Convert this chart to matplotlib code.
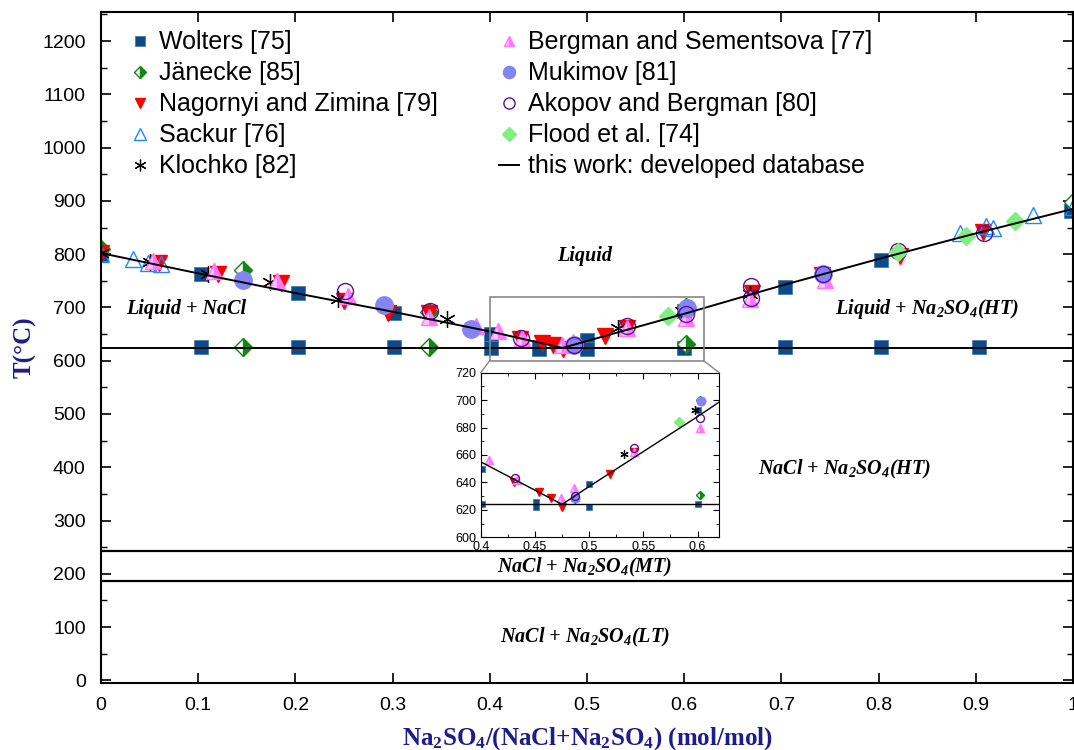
import numpy as np
import matplotlib
matplotlib.use("Agg")
import matplotlib.pyplot as plt
from matplotlib.patches import Rectangle, ConnectionPatch

plt.rcParams['font.family'] = ['Liberation Sans', 'DejaVu Sans']
plt.rcParams['mathtext.default'] = 'regular'

# liquidus from this work
liq_x = [0.0, 0.1, 0.2, 0.3, 0.4, 0.475, 0.5, 0.6, 0.7, 0.8, 0.9, 1.0]
liq_T = [802, 764, 727, 692, 655, 624, 637, 688, 741, 791, 839, 885]
eut_T = 624
mt_T = 243
lt_T = 186

# experimental data
wol_x = [0.0, 0.103, 0.203, 0.302, 0.401, 0.451, 0.5, 0.6, 0.704, 0.803, 0.998,
         0.103, 0.203, 0.302, 0.401, 0.451, 0.5, 0.6, 0.704, 0.803, 0.903]
wol_T = [800, 763, 727, 690, 650, 626, 639, 693, 739, 789, 881,
         625, 625, 625, 624, 622, 622, 624, 625, 625, 625]

jan_x = [0.0, 0.146, 0.338, 0.602, 1.0, 0.146, 0.337, 0.602]
jan_T = [810, 771, 692, 700, 898, 626, 625, 631]

nag_x = [0.0, 0.06, 0.12, 0.185, 0.25, 0.295, 0.338, 0.431, 0.454, 0.465, 0.475,
         0.519, 0.541, 0.67, 0.742, 0.822, 0.907]
nag_T = [803, 783, 763, 745, 712, 689, 690, 640, 633, 629, 622,
         646, 662, 727, 760, 796, 842]

sac_x = [0.0, 0.033, 0.048, 0.062, 0.884, 0.911, 0.918, 0.959, 1.0]
sac_T = [800, 790, 784, 781, 840, 852, 849, 874, 888]

klo_x = [0.0, 0.05, 0.11, 0.174, 0.2435, 0.356, 0.487, 0.532, 0.598, 0.668]
klo_T = [802, 785, 763, 747, 716, 678, 628, 661, 693, 725]

ber_x = [0.054, 0.116, 0.181, 0.254, 0.337, 0.386, 0.408, 0.433, 0.474, 0.486,
         0.541, 0.602, 0.668, 0.745]
ber_T = [788, 768, 749, 721, 683, 665, 656, 642, 629, 636,
         662, 680, 715, 752]

muk_x = [0.146, 0.2915, 0.381, 0.487, 0.603, 0.743]
muk_T = [751, 704, 659, 629, 699, 762]

ako_x = [0.251, 0.3385, 0.432, 0.487, 0.541, 0.602, 0.669, 0.669, 0.743, 0.82, 0.908]
ako_T = [730, 693, 643, 630, 665, 687, 740, 717, 763, 806, 840]

flo_x = [0.583, 0.82, 0.89, 0.94]
flo_T = [684, 805, 834, 862]

navy = '#1c1c8c'

fig = plt.figure(figsize=(10.74, 7.5), dpi=100)
ax = fig.add_axes([0.094, 0.0893, 0.905, 0.895])
axins = fig.add_axes([0.4476, 0.2836, 0.2221, 0.2195])


def draw(a, s):
    big = s > 0.7
    a.plot(wol_x, wol_T, ls='none', marker='s', ms=9.5 * s, color='#0b4a8b',
           mec='#4d78a8', mew=0.6, label='Wolters [75]')
    a.plot(jan_x, jan_T, ls='none', marker='D', ms=9 * s, color='#118811',
           fillstyle='right', markerfacecoloralt='white', mec='#118811', mew=1.0,
           label='Jänecke [85]')
    a.plot(nag_x, nag_T, ls='none', marker='v', ms=11 * s, color='#ff0000',
           label='Nagornyi and Zimina [79]')
    a.plot(sac_x, sac_T, ls='none', marker='^', ms=11.5 * s, mfc='none',
           mec='#1e88ff', mew=1.0, label='Sackur [76]')
    a.plot(klo_x, klo_T, ls='none', marker=(6, 2, 0), ms=12 * s, color='black',
           mew=0.9, label='Klochko [82]')
    a.plot(ber_x, ber_T, ls='none', marker='^', ms=11 * s, color='#ff77ff',
           fillstyle='right', markerfacecoloralt='#ffc4ff', mec='#ff77ff', mew=1.0,
           label='Bergman and Sementsova [77]')
    a.plot(muk_x, muk_T, ls='none', marker='o', ms=12.5 * s, color='#8484f4',
           label='Mukimov [81]')
    a.plot(ako_x, ako_T, ls='none', marker='o', ms=11.5 * s, mfc='none',
           mec='#5a1199', mew=1.0, label='Akopov and Bergman [80]')
    a.plot(flo_x, flo_T, ls='none', marker='D', ms=9.5 * s, color='#80ee80',
           label='Flood et al. [74]')
    a.plot(liq_x, liq_T, color='black', lw=1.4 if big else 1.0, zorder=4,
           label='this work: developed database')
    a.axhline(eut_T, color='black', lw=1.4 if big else 1.0, zorder=4)


draw(ax, 1.0)
ax.axhline(mt_T, color='black', lw=1.6, zorder=4)
ax.axhline(lt_T, color='black', lw=1.6, zorder=4)

ax.set_xlim(0, 1)
ax.set_ylim(-5, 1255)
ax.set_xticks(np.arange(0, 1.01, 0.1))
ax.set_xticklabels(['0', '0.1', '0.2', '0.3', '0.4', '0.5', '0.6', '0.7', '0.8', '0.9', '1'])
ax.set_yticks(np.arange(0, 1201, 100))
ax.set_yticks(np.arange(0, 1251, 50), minor=True)
ax.tick_params(which='both', direction='in', top=True, right=True, labelsize=14)
ax.tick_params(which='major', length=7, width=1.2)
ax.tick_params(which='minor', length=4, width=1.0)
ax.tick_params(axis='x', pad=10)
ax.tick_params(axis='y', pad=11)
for sp in ax.spines.values():
    sp.set_linewidth(1.5)

ax.set_xlabel('Na$_2$SO$_4$/(NaCl+Na$_2$SO$_4$) (mol/mol)', family='Liberation Serif',
              fontweight='bold', fontsize=18, color=navy, labelpad=8)
ax.set_ylabel('T(°C)', family='Liberation Serif', fontweight='bold', fontsize=18,
              color=navy, labelpad=4)

lab = dict(family='Liberation Serif', fontweight='bold', style='italic', fontsize=14.5,
           ha='center', va='center')
ax.text(0.498, 797, 'Liquid', **lab)
ax.text(0.088, 698, 'Liquid + NaCl', **lab)
ax.text(0.85, 698, 'Liquid + Na$_2$SO$_4$(HT)', **lab)
ax.text(0.765, 396, 'NaCl + Na$_2$SO$_4$(HT)', **lab)
ax.text(0.498, 212, 'NaCl + Na$_2$SO$_4$(MT)', **lab)
ax.text(0.498, 80, 'NaCl + Na$_2$SO$_4$(LT)', **lab)

ax.legend(loc='upper left', bbox_to_anchor=(0.0, 1.015), ncol=2, frameon=False,
          fontsize=18, markerscale=0.7, handlelength=0.8, handletextpad=0.36,
          columnspacing=2.46, labelspacing=0.28, borderaxespad=0.75)

# inset
draw(axins, 0.5)
axins.set_xlim(0.4, 0.62)
axins.set_ylim(600, 720)
axins.set_xticks([0.4, 0.45, 0.5, 0.55, 0.6])
axins.set_xticklabels(['0.4', '0.45', '0.5', '0.55', '0.6'])
axins.set_xticks(np.arange(0.4, 0.621, 0.025), minor=True)
axins.set_yticks(np.arange(600, 721, 20))
axins.set_yticks(np.arange(600, 721, 10), minor=True)
axins.tick_params(which='both', direction='in', top=True, right=True, labelsize=9, pad=3)
axins.tick_params(which='major', length=4)
axins.tick_params(which='minor', length=2)

ax.add_patch(Rectangle((0.4, 600), 0.22, 120, fill=False, edgecolor='#888888', lw=1.2,
                       zorder=5))
for xd, xa in [(0.4, 0.0), (0.62, 1.0)]:
    con = ConnectionPatch(xyA=(xd, 600), coordsA=ax.transData, xyB=(xa, 1.0),
                          coordsB=axins.transAxes, color='#888888', lw=1.0)
    fig.add_artist(con)

fig.savefig('out.png', dpi=100)
